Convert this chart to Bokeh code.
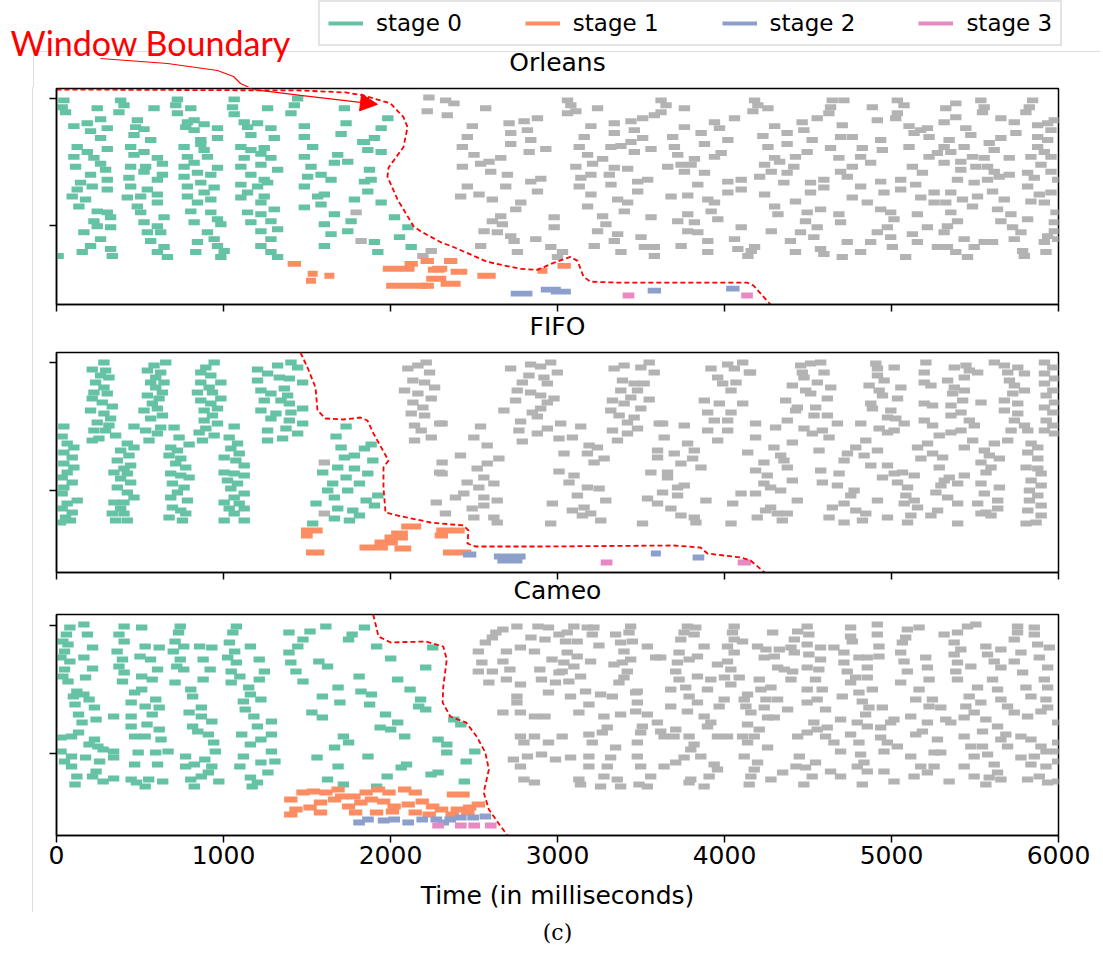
from bokeh.plotting import figure
from bokeh.models import (Range1d, FixedTicker, Title, Legend, LegendItem, Label,
                          Arrow, NormalHead, Spacer, Div)
from bokeh.layouts import column, row
from bokeh.embed import file_html
from bokeh.resources import INLINE

GREEN = "#66c2a5"; ORANGE = "#fc8d62"; BLUE = "#8da0cb"; PINK = "#e78ac3"
GRAY = "#b3b3b3"; RED = "#ff0000"; FRAME_GRAY = "#dcdcdc"

X_TICKS = [0, 1000, 2000, 3000, 4000, 5000, 6000]
STAGES = ["stage 0", "stage 1", "stage 2", "stage 3"]
PANELS = ["Orleans", "FIFO", "Cameo"]

# ---------------- Orleans ----------------
ORL_S0 = [(44,204),(34,197),(54,192),(244,196),(384,204),(404,199),(374,192),(584,196),(724,205),(714,199),(724,191),(804,196),(1064,205),(1054,197),(1064,190),(1264,196),(1444,206),(1424,199),(1404,191),(1724,196),(1984,186),
(104,178),(184,181),(264,185),(204,173),(304,176),(484,184),(474,177),(524,175),(464,169),(564,164),(784,182),(824,184),(774,177),(884,180),(964,176),(824,174),(1124,182),(1204,181),(1144,177),(1284,176),(1164,169),(1304,166),(1484,178),(1484,167),(1734,181),(1704,170),(1944,176),(1904,166),(1834,162),(964,166),(864,164),(264,166),
(124,157),(184,152),(304,155),(104,147),(224,146),(264,140),(294,134),(114,137),(444,157),(464,149),(524,152),(604,146),(444,137),(534,137),(634,140),(634,129),(764,157),(864,160),(884,154),(904,147),(784,147),(824,141),(764,137),(964,136),(1104,157),(1164,154),(1244,156),(1224,150),(1124,146),(1284,146),(1104,137),(1224,139),(1324,134),(1484,147),(1534,157),(1524,137),(1684,149),(1744,142),(1664,141),(1844,162),(1864,154),(1944,152),(1874,134),
(204,129),(304,124),(144,121),(214,117),(304,114),(124,114),(94,107),(174,104),(134,97),(434,126),(524,132),(604,124),(444,117),(544,114),(504,107),(604,109),(424,106),(604,101),(764,127),(844,131),(924,129),(784,117),(864,121),(944,116),(884,111),(924,104),(844,101),(784,107),(1164,129),(1244,124),(1104,119),(1204,117),(1264,121),(1144,111),(1244,107),(1224,101),(1104,106),(1504,127),(1584,129),(1484,117),(1644,124),(1564,107),(1604,109),(1484,96),(1584,99),(1844,122),(1884,124),(1864,112),(1784,104),(1944,101),
(244,92),(304,91),(224,82),(324,86),(164,71),(244,77),(324,76),(264,64),(204,57),(154,51),(324,54),(334,47),(484,97),(504,91),(644,86),(524,81),(604,77),(624,71),(544,71),(564,62),(644,56),(604,51),(664,46),(804,92),(924,91),(824,81),(964,84),(984,79),(904,71),(944,64),(844,61),(834,51),(964,57),(1004,52),(984,46),(1144,91),(1224,89),(1304,94),(1164,81),(1284,82),(1224,72),(1324,74),(1284,64),(1224,57),(1284,51),(1324,46),(1604,79),(1664,89),(1764,82),(1644,69),(1744,72),(1604,57),(1904,61),(1924,51),(2024,86),(2104,76),(2054,66),(2124,56),(10,47)]

ORL_GRAY = [(1794,91),(1824,62),(2194,47),(2244,52),
(2230,207),(2330,204),(2380,201),(2220,193),(2340,189),(2570,196),(2490,178),(2710,181),(2800,183),(2880,186),(2720,171),(2820,174),(2460,167),(2430,157),(2720,160),(2840,164),(2930,155),(2830,152),(2500,149),(2540,140),(2590,142),(2660,146),(2430,137),(2600,132),(2700,129),(2840,122),(2900,125),(2460,117),(2530,109),(2610,104),(2420,107),(2690,117),(2780,101),(2880,112),(2750,94),(2660,87),(2610,82),(2670,79),(2560,72),(2640,71),(2720,67),(2740,62),(2540,57),(2760,51),(2980,86),(2980,76),(2870,64),(2960,56),(3030,51),(3000,46),
(3060,204),(3080,199),(3060,191),(3110,193),(3240,196),(3200,178),(3340,181),(3440,183),(3510,186),(3340,171),(3460,174),(3160,167),(3510,166),(3440,162),(3130,157),(3320,157),(3380,158),(3460,152),(3560,155),(3180,149),(3270,145),(3210,140),(3110,137),(3340,136),(3420,135),(3200,129),(3310,129),(3140,126),(3480,122),(3540,124),(3320,119),(3130,117),(3200,109),(3360,104),(3420,101),(3480,112),(3180,97),(3400,92),(3270,87),(3290,79),(3240,72),(3360,69),(3340,62),(3220,57),(3380,51),(3500,66),(3560,86),(3580,56),(3520,56),(3580,47),
(3620,204),(3650,199),(3620,192),(3760,196),(3580,189),(3760,177),(3860,171),(3940,182),(3970,176),(4060,186),(4020,164),(3690,167),(3700,157),(3880,160),(3980,151),(3720,149),(3820,145),(3660,137),(3740,139),(3800,139),(3940,147),(3760,132),(3880,131),(3840,119),(4020,122),(4100,124),(4100,114),(4020,111),(3680,107),(3780,108),(3900,104),(3940,101),(3920,92),(3780,89),(3820,81),(3720,82),(3960,84),(4100,76),(3780,72),(3840,71),(3900,62),(3740,57),(3900,51),(4060,64),(4080,54),(4160,52),(4140,47),
(4180,204),(4200,199),(4170,193),(4260,196),(4300,178),(4230,168),(4260,157),(4300,146),(4240,139),(4330,142),(4210,127),(4280,132),(4240,109),(4300,97),(4320,89),(4280,72),(4180,56),
(4645,204),(4715,204),(4635,197),(4625,191),(4555,186),(4465,182),(4475,174),(4375,171),(4525,164),(4375,160),(4495,152),(4425,147),(4635,156),(4695,167),(4765,167),(4705,179),(4825,156),(4815,147),(4765,137),(4875,141),(4735,127),(4595,124),(4515,121),(4815,117),(4765,106),(4855,101),(4685,146),(4695,132),(4595,116),(4515,111),(4425,102),(4375,131),(4415,137),(4355,121),(4575,94),(4495,91),(4485,82),(4685,89),(4695,81),(4555,76),(4455,71),(4395,62),(4425,51),(4535,66),(4575,54),(4595,49),(4705,46),(4735,61),(4815,51),
(4885,197),(4915,184),(4935,164),(4945,154),(5035,204),(5075,199),(5035,191),(5025,186),(5105,178),(5175,174),(5215,176),(5135,171),(5225,167),(5105,157),(4935,122),(4955,111),(5055,124),(5055,114),(5145,119),(5125,137),(5185,131),(5225,147),(5275,151),(5255,111),(5175,106),(5255,101),(5325,101),(4935,94),(4995,91),(5015,84),(4975,76),(4915,71),(4875,61),(4995,66),(5005,56),(5085,46),(5155,89),(5215,76),(5125,69),(5155,61),
(5325,196),(5385,201),(5315,182),(5385,187),(5345,164),(5435,157),(5445,176),(5475,169),(5315,157),(5355,152),(5415,142),(5315,141),(5485,147),(5505,137),(5415,134),(5395,124),(5495,121),(5355,111),(5425,104),(5515,107),(5485,97),(5355,91),(5395,82),(5315,71),(5335,77),(5435,64),(5275,56),(5335,56),(5385,51),(5455,46),(5495,56),(5555,61),(5605,61),
(5535,204),(5555,197),(5545,192),(5655,186),(5735,182),(5745,171),(5655,166),(5585,161),(5615,154),(5555,146),(5575,137),(5615,132),(5705,146),(5705,129),(5645,127),(5575,124),(5605,112),(5675,104),(5635,94),(5715,89),(5655,82),(5725,76),(5775,71),(5815,84),(5735,64),(5785,52),(5795,47),(5925,51),(5915,61),
(5845,204),(5825,197),(5805,192),(5875,179),(5935,181),(5975,184),(5955,174),(5875,167),(5935,164),(5875,157),(5915,152),(5955,147),(5895,139),(5835,147),(5815,131),(5855,126),(5955,132),(5995,124),(5815,117),(5885,109),(5955,111),(5835,102),(5915,101),(5985,91),(5975,81),(5975,72),(5935,67),(5995,64)]

ORL_S1 = [(1384,1464,39),(1504,1564,29),(1494,1554,22),(1604,1664,27),(1954,2144,34),(1974,2224,17),(2084,2164,39),(2224,2324,33),(2214,2334,24),(2180,2260,42),(2250,2340,34),(2320,2400,42),(2360,2460,31),(2520,2630,27),(2300,2420,19),(2180,2260,17),(2880,2940,32),(3000,3080,37)]
ORL_S2 = [(2720,2850,9),(2900,3020,13),(2960,3080,11),(3540,3620,12),(4010,4090,14)]
ORL_S3 = [(3390,3460,7),(4100,4170,7)]
ORL_BOUND = [(0,215),(1461,214),(1731,212),(1838,209),(2000,201),(2078,187),(2102,177),(2078,157),(1988,136),(1982,127),(2042,104),(2138,77),(2180,72),(2299,61),(2377,56),(2581,41),(2778,34),(2880,33),(2976,40),(3078,46),(3120,42),(3156,26),(3198,21),(3377,20),(4138,20),(4174,17),(4275,-2)]

# ---------------- FIFO ----------------
FIFO_S0 = [(44,146),(34,136),(64,129),(104,125),(44,120),(94,115),(44,109),(104,105),(64,100),(34,95),(94,90),(44,85),(34,79),(124,72),(64,69),(34,64),(94,60),(54,55),(84,52),(24,50),
(284,210),(214,203),(294,202),(264,197),(314,195),(234,190),(284,185),(224,180),(304,179),(214,174),(274,170),(334,166),(204,162),(284,159),(324,154),(244,150),(314,147),(224,142),(294,142),(354,137),(214,132),(254,134),
(424,129),(464,125),(384,122),(434,117),(364,112),(444,107),(404,104),(344,100),(424,99),(384,94),(444,90),(364,85),(424,80),(464,75),(344,70),(404,70),(384,64),(334,59),(404,59),(354,52),(424,52),
(654,210),(584,207),(544,202),(624,200),(594,195),(564,190),(644,190),(594,185),(634,180),(544,177),(614,174),(574,169),(524,162),(604,164),(634,157),(564,154),(464,146),(624,145),(534,142),(604,139),(554,132),(704,145),(734,135),
(684,125),(724,122),(794,128),(674,117),(744,114),(714,109),(774,105),(684,99),(744,97),(794,95),(694,89),(764,85),(724,80),(684,75),(784,72),(694,65),(744,62),(774,59),(674,55),(754,52),
(944,210),(894,205),(864,200),(924,197),(984,190),(864,190),(914,185),(844,180),(934,180),(984,174),(864,172),(924,169),(884,162),(964,164),(934,157),(884,152),(964,149),(894,144),(854,140),(944,137),(874,132),(1064,146),(1034,135),
(1084,129),(1044,124),(1094,119),(1004,115),(1074,112),(1124,107),(1004,100),(1064,99),(1124,97),(1024,92),(1084,89),(1044,84),(1124,79),(1064,75),(1004,70),(1094,69),(1034,64),(1124,64),(1064,59),(1004,52),(1124,52),
(1204,203),(1264,199),(1324,207),(1404,210),(1444,205),(1334,195),(1394,194),(1474,190),(1204,192),(1224,182),(1284,179),(1364,184),(1384,177),(1244,172),(1344,172),(1394,169),(1224,162),(1314,159),(1404,160),(1474,164),(1284,154),(1394,152),(1474,149),(1264,142),(1374,144),(1444,139),(1264,132),(1354,134),
(1734,146),(1674,136),(1704,125),(1844,124),(1884,128),(1784,117),(1724,115),(1894,112),(1684,105),(1594,100),(1784,104),(1864,99),(1734,95),(1814,89),(1654,89),(1624,82),(1744,82),(1924,77),(1554,69),(1664,75),(1854,72),(1904,67),(1684,64),(1774,62),(1814,57),(1664,54),(1754,52),(1534,49)]

FIFO_GRAY = [(1604,110),(1604,59),(2214,210),(2164,207),(2104,204),(2234,200),(2134,192),(2204,190),(2264,185),(2084,182),(2164,179),(2244,174),(2134,170),(2194,165),(2124,159),(2204,157),(2294,149),(2144,147),(2184,142),(2244,135),(2144,132),(2274,70),(2294,100),
(2719,204),(2839,208),(2959,210),(2899,206),(2999,200),(2829,197),(2919,195),(2789,190),(2939,189),(2759,182),(2839,180),(2899,177),(2979,174),(2749,172),(2939,170),(2679,162),(2849,160),(2899,164),(2879,156),(2779,151),(2939,144),(2879,139),(2769,142),(2789,131),(3019,149),(3139,146),(3009,134),(3089,135),(3039,119),(3189,127),(3239,125),(3179,119),(3279,114),(3219,110),(3009,101),(3099,97),(3069,90),(3179,85),(3249,84),(3119,77),(3289,72),(2969,69),(3159,65),(3089,62),(3199,59),(3259,52),(2959,49),(3149,57),
(2539,146),(2499,135),(2579,127),(2419,117),(2519,104),(2579,109),(2649,114),(2459,90),(2559,95),(2619,89),(2529,85),(2389,75),(2439,79),(2559,75),(2639,72),(2489,64),(2559,67),(2619,55),(2499,55),(2329,59),(2639,50),(2309,110),(2309,99),(2309,149),
(3339,204),(3399,207),(3499,205),(3549,210),(3579,200),(3389,192),(3459,189),(3519,189),(3379,182),(3479,182),(3439,175),(3549,173),(3329,172),(3399,169),(3499,164),(3319,162),(3369,157),(3459,155),(3419,150),(3329,142),(3479,144),(3419,139),(3359,132),(3629,149),(3759,147),(3639,135),(3599,122),(3599,115),(3779,129),(3819,122),(3699,119),(3809,114),(3739,109),(3859,105),(3559,100),(3659,100),(3659,95),(3759,87),(3719,85),(3629,80),(3719,77),(3539,74),(3889,72),(3599,69),(3679,64),(3739,57),(3819,55),(3509,49),(3829,50),
(3919,204),(4019,208),(4109,210),(4059,204),(4149,200),(3959,195),(3989,189),(4069,190),(4039,182),(3879,172),(3969,169),(4109,169),(4039,160),(3899,160),(3939,152),(4019,152),(4019,142),(3899,142),(3959,132),(3609,149),(4139,120),(4099,79),(4049,69),(4039,49),
(4156,200),(4456,207),(4516,209),(4576,210),(4466,200),(4476,195),(4596,200),(4556,190),(4406,187),(4486,182),(4516,179),(4636,185),(4366,172),(4436,165),(4426,162),(4546,165),(4616,174),(4536,157),(4616,157),(4676,149),(4306,145),(4376,152),(4186,149),(4476,144),(4526,139),(4586,142),(4626,135),(4186,135),(4296,125),(4406,130),(4566,122),(4336,117),(4356,112),(4236,110),(4376,105),(4186,102),(4256,97),(4406,92),(4236,89),(4276,85),(4336,82),(4186,79),(4436,72),(4276,65),(4246,62),(4316,59),(4376,59),(4196,55),(4346,52),
(4576,102),(4586,90),(4686,99),(4676,87),(4776,82),(4756,77),(4646,65),(4716,69),(4786,62),(4846,59),(4716,50),(4826,52),(4626,55),
(4906,209),(4916,204),(5016,205),(4916,197),(4956,192),(4866,187),(5056,185),(4926,182),(4946,177),(5036,174),(4876,169),(4886,164),(4996,162),(4976,155),(5026,154),(5076,149),(4816,149),(4926,144),(4976,140),(5016,142),(4846,132),(4786,125),(4916,122),(4736,119),(4836,117),(4716,112),(4876,107),(4976,107),(4946,95),(5016,99),(5036,90),(5136,97),(5066,100),(5096,85),(5086,77),(5136,72),(4916,72),(5076,69),(5156,65),(5116,57),(5096,50),(4976,55),
(5206,210),(5196,200),(5196,190),(5236,187),(5196,169),(5246,167),(5196,152),(5246,147),(5286,137),(5216,129),(5156,125),(5176,114),(5246,119),(5306,115),(5286,105),(5346,95),(5316,92),(5266,80),(5336,75),(5296,87),(5396,69),(5276,62),(5236,57),(5396,49),(5356,140),
(5376,205),(5446,207),(5466,202),(5516,200),(5436,195),(5336,192),(5376,185),(5436,182),(5366,179),(5426,172),(5536,170),(5356,167),(5416,160),(5356,157),(5466,152),(5496,147),(5416,142),(5486,132),(5436,125),(5556,122),(5536,110),(5586,117),(5596,105),(5646,114),(5566,100),(5436,97),(5396,89),(5536,89),(5646,85),(5556,79),(5636,72),(5516,69),(5566,60),(5596,57),(5636,64),(5536,59),
(5616,210),(5676,207),(5756,205),(5696,200),(5796,199),(5706,192),(5736,187),(5796,182),(5726,179),(5676,172),(5756,169),(5676,162),(5756,159),(5736,152),(5796,147),(5716,142),(5816,142),(5696,132),(5616,129),
(5916,210),(5966,205),(5916,199),(5976,194),(5916,189),(5966,182),(5926,177),(5976,170),(5916,165),(5966,160),(5926,152),(5966,147),(5916,142),(5976,139),(5836,129),(5876,125),(5816,120),(5876,114),(5806,105),(5876,104),(5896,99),(5836,92),(5896,87),(5826,82),(5876,77),(5826,72),(5896,67),(5816,62),(5896,57),(5806,49),(5866,50)]

FIFO_S1 = [(1464,1594,42),(1464,1534,37),(1494,1604,20),(1814,1984,25),(1904,2044,30),(1964,2104,35),(2004,2104,39),(2024,2124,24),(2064,2184,46),(2274,2444,42),(2264,2344,37),(2314,2484,20)]
FIFO_S2 = [(2434,2514,18),(2619,2809,16),(2640,2790,12),(3559,3619,19),(3809,3879,15)]
FIFO_S3 = [(3259,3329,10),(4079,4159,10)]
FIFO_BOUND = [(1461,220),(1503,205),(1551,185),(1563,162),(1611,154),(1719,153),(1820,155),(1862,152),(1898,139),(1988,112),(1958,105),(1958,85),(1970,60),(2042,57),(2240,50),(2437,47),(2467,42),(2461,29),(2509,26),(2898,26),(3695,27),(3856,25),(3898,19),(4096,15),(4156,12),(4275,-5)]

# ---------------- Cameo ----------------
CAM_S0 = [(80,208),(59,201),(38,194),(69,191),(48,184),(27,178),(80,174),(48,166),(38,159),(69,154),(164,211),(185,201),(216,188),(164,178),(216,167),(174,158),(122,144),(164,141),(101,139),(111,131),(195,136),(227,128),(132,121),(237,116),(153,113),(90,99),(132,103),(27,98),(227,96),(195,91),(248,89),(27,84),(279,86),(174,78),(258,74),(90,79),(342,84),(48,74),(90,69),(237,64),(216,59),(279,54),(342,57),(122,59),(111,51),
(405,209),(374,201),(405,194),(363,184),(395,176),(374,169),(405,163),(395,154),(510,208),(531,189),(500,179),(563,176),(615,188),(510,159),(573,156),(605,166),(468,143),(510,146),(447,133),(594,136),(531,129),(615,128),(342,119),(447,119),(447,109),(542,111),(573,121),(615,106),(468,99),(531,99),(626,96),(668,84),(489,83),(468,71),(594,83),(605,71),(342,78),(447,56),(552,56),(636,54),(479,53),(531,49),
(741,209),(731,203),(710,194),(762,189),(699,184),(741,176),(720,169),(762,166),(710,153),(857,189),(930,188),(878,176),(920,166),(878,156),(804,146),(815,139),(867,128),(794,123),(867,119),(815,109),(930,114),(846,104),(909,101),(941,93),(951,84),(888,76),(773,79),(825,71),(930,69),(909,63),(867,59),(804,56),(972,54),(825,49),(773,69),
(1077,209),(1056,203),(1035,193),(1067,184),(1025,178),(1077,173),(1046,164),(1098,159),(1046,153),(1161,189),(1214,176),(1245,164),(1214,156),(1151,148),(1161,141),(1119,134),(1224,136),(1130,126),(1182,119),(1287,114),(1203,109),(1109,101),(1287,101),(1224,96),(1161,91),(1287,84),(1119,79),(1224,73),(1308,74),(1098,69),(1266,63),(1161,58),(1203,53),(1172,49),
(1392,203),(1518,204),(1613,209),(1476,196),(1445,189),(1392,183),(1403,173),(1434,164),(1476,154),(1571,174),(1623,169),(1686,148),(1592,139),(1697,133),(1529,123),(1592,118),(1718,99),(1749,93),(1665,88),(1560,78),(1686,69),(1623,56),(1718,51),
(1770,201),(1749,196),(1844,208),(1917,189),(1812,159),(1823,144),(1886,141),(1875,131),(2001,177),(2043,156),(1970,121),(1938,108),(2001,106),(2043,113),(2085,99),(1865,79),(2096,71),(2064,68),(1980,59),(1917,49),
(2253,188),(2211,168),(2117,146),(2180,136),(2169,129),(2211,126),(2379,116),(2421,111),(2285,96),(2337,91),(2337,83),(2505,84),(2453,74),(2285,63),(2243,61),(2442,54)]

CAM_GRAY = [(2631,203),(2673,206),(2757,209),(2568,193),(2610,198),(2526,184),(2694,184),(2778,188),(2547,173),(2673,174),(2526,164),(2610,164),(2715,166),(2589,153),(2694,156),(2778,151),(2757,139),(2673,123),(2778,123),(2757,133),(2778,99),(2862,99),(2799,93),(2946,93),(2736,76),(2820,79),(2904,81),(2778,69),(2988,76),(2799,56),(2862,53),(2883,209),(2946,208),(2841,198),(2925,196),(3009,201),(2862,184),(2967,176),(2894,166),(3009,163),(2904,156),(2988,153),(2946,143),(2862,119),(2925,119),
(3098,209),(3058,203),(3178,208),(3218,208),(3048,194),(3208,201),(3118,194),(3248,190),(3058,183),(3118,179),(3038,173),(3198,174),(3098,169),(3028,164),(3138,159),(3068,154),(3338,171),(3348,201),(3438,209),(3428,203),(3448,194),(3378,193),(3398,184),(3438,176),(3388,173),(3418,164),(3398,158),(3368,153),(3538,189),(3478,144),(3078,139),(3168,144),(3258,141),(3328,139),(3188,131),(3128,123),(3278,119),(3378,121),(3298,108),(3268,103),(3188,101),(3028,99),(3208,93),(3348,88),(3188,79),(3078,78),(3318,78),(3188,69),(3298,69),(3128,56),(3278,59),(3358,56),(3138,51),(3258,49),(3378,49),
(3468,143),(3478,133),(3468,124),(3538,121),(3508,109),(3498,103),(3478,93),(3478,79),(3498,69),(3488,51),(3558,59),(3538,49),(3588,178),(3618,178),(3598,113),(3618,104),(3638,99),(3678,129),(3708,106),(3698,99),(3788,99),(3638,69),(3708,73),(3758,78),(3798,56),
(3778,209),(3758,203),(3738,196),(3828,208),(3818,201),(3878,189),(3728,183),(3788,176),(3838,179),(3718,173),(3708,164),(3728,156),(3678,146),(3768,148),(3838,159),(3788,139),(3838,133),(3778,124),(3878,119),(3918,113),(3898,109),(3958,99),(4018,99),(3818,91),(3798,86),(3858,79),(3938,71),(3958,66),(3908,59),(3878,49),(3788,53),(3898,146),(3998,136),(3968,129),(4038,151),(3918,156),(3958,171),(4038,166),(4018,174),
(4058,209),(4048,203),(4058,196),(4108,194),(4018,189),(4058,183),(4000,158),(4088,158),(4118,136),(4138,141),(4128,129),(4158,123),(4138,111),(4208,106),(4178,99),(4108,99),(4138,93),(4118,79),(4198,73),(4178,66),(4158,59),(4148,51),(4258,88),(4278,56),(4348,63),
(4198,189),(4248,186),(4238,178),(4298,179),(4288,203),(4208,156),(4218,146),(4278,148),(4318,136),(4248,136),(4238,128),(4298,118),(4258,118),(4378,126),(4358,166),(4318,168),(4328,186),(4398,188),(4418,196),(4438,204),(4418,183),(4408,164),(4398,156),(4438,99),(4448,79),(4428,69),
(4495,209),(4505,201),(4495,191),(4575,188),(4655,188),(4505,181),(4575,176),(4565,166),(4495,168),(4545,156),(4495,146),(4585,146),(4555,136),(4605,126),(4495,133),(4535,113),(4495,103),(4555,106),(4615,108),(4655,93),(4695,84),(4605,99),(4545,73),(4485,68),(4525,59),(4635,64),(4695,59),(4475,51),
(4755,208),(4755,199),(4765,194),(4715,183),(4805,178),(4715,173),(4735,164),(4785,158),(4855,158),(4755,153),(4805,143),(4705,139),(4825,134),(4865,128),(4845,121),(4695,116),(4795,113),(4855,109),(4755,101),(4805,93),(4935,98),(4975,93),(4815,81),(4835,73),(4795,69),(4855,64),(4955,64),(5015,54),(4825,51),
(4915,211),(4915,201),(4925,189),(4855,178),(4925,179),(4855,168),(4885,146),(4945,128),(4935,108),(4955,84),(4995,113),(5015,116),(5035,89),
(5095,206),(5085,198),(5065,193),(5055,183),(5075,174),(5095,164),(5055,153),(5165,208),(5205,178),(5215,168),(5225,156),(5165,146),(5145,136),(5245,136),(5225,129),(5295,128),(5115,119),(5215,113),(5145,101),(5185,104),(5275,96),(5295,83),(5255,83),(5115,79),(5175,69),(5215,63),(5135,59),(5255,69),(5345,54),
(5315,201),(5395,203),(5455,209),(5505,211),(5375,193),(5415,186),(5375,181),(5395,173),(5475,169),(5385,164),(5395,156),(5325,116),(5355,113),(5435,118),(5465,139),(5445,129),(5515,148),(5535,133),(5495,123),(5565,116),(5545,104),(5435,99),(5475,89),(5495,79),(5545,89),(5575,81),(5435,69),(5615,71),(5495,59),(5565,51),(5585,58),(5635,63),(5655,56),
(5565,189),(5575,181),(5655,186),(5615,174),(5655,168),(5735,174),(5755,209),(5755,203),(5735,196),(5855,208),(5855,201),(5875,191),(5945,188),(5775,183),(5885,178),(5935,168),(5785,163),(5605,156),(5635,146),(5655,136),(5695,129),(5735,123),(5635,109),(5685,101),(5655,96),(5695,89),(5775,99),(5835,96),(5895,89),(5775,78),(5855,79),(5925,84),(5995,93),(5985,84),(5835,71),(5925,69),(5995,74),(5815,56),(5885,59),(5935,53),(5995,54),(5805,148),(5835,139),(5925,136),(5895,124),(5935,128),(5815,119),(5995,113),(5935,148),(5915,156)]

CAM_S1 = [(1363,1443,36),(1436,1516,43),(1499,1579,44),(1573,1653,43),(1646,1726,46),(1667,1747,39),(1741,1821,39),(1814,1894,43),(1888,1968,46),(1951,2031,43),(2045,2125,46),(2108,2188,43),(2337,2474,41),
(1394,1474,26),(1478,1558,28),(1541,1621,33),(1625,1705,36),(1709,1789,29),(1783,1863,33),(1846,1926,36),(1919,1999,34),(1982,2062,29),(2066,2146,31),(2150,2230,34),(2213,2293,29),(2266,2346,26),(2360,2440,26),(2434,2514,28),(2486,2566,31),
(1363,1443,21),(1541,1621,23),(1751,1831,23),(1877,1957,23),(1972,2052,24),(2108,2188,23),(2192,2272,21),(2329,2409,21),(2423,2503,23)]
CAM_S2 = [(1777,1847,13),(1830,1900,16),(1924,1994,15),(1987,2057,16),(2071,2141,13),(2155,2225,16),(2239,2309,16),(2281,2351,13),(2323,2393,16),(2386,2456,18),(2460,2530,18),(2533,2603,19)]
CAM_S3 = [(2250,2320,10),(2386,2456,10),(2466,2536,10),(2565,2635,10)]
CAM_BOUND = [(1896,221),(1907,214),(1928,199),(2001,193),(2211,194),(2316,189),(2337,176),(2316,149),(2312,133),(2358,119),(2453,113),(2516,99),(2568,83),(2589,66),(2558,43),(2589,26),(2652,11),(2705,-1)]

# pointer from the "Window Boundary" text (Orleans data space, continues above its frame)
ARROW_PATH = [(263,246),(665,241),(964,234),(1060,228),(1102,221),(1180,215),(1461,209),(1820,202)]
ARROW_TIP = (1922, 200)

MS_PER_PX = 6000 / 1002


def panel(height, top, bottom, yr, yticks):
    p = figure(width=1067, height=height, x_range=Range1d(0, 6000), y_range=Range1d(yr[0], yr[1]),
               output_backend="svg", toolbar_location=None, title_location=None,
               min_border_left=23, min_border_right=42,
               min_border_top=top, min_border_bottom=bottom)
    p.grid.visible = False
    p.outline_line_color = "black"
    p.outline_line_width = 1.5
    p.outline_line_alpha = 1
    for ax in (p.xaxis[0], p.yaxis[0]):
        ax.axis_line_width = 1.5
        ax.axis_line_color = "black"
        ax.major_tick_line_width = 1.5
        ax.major_tick_line_color = "black"
        ax.major_tick_out = 7
        ax.major_tick_in = 0
        ax.minor_tick_line_color = None
        ax.major_label_text_font_size = "0px"
        ax.major_label_text_color = None
        ax.major_label_standoff = 0
    p.xaxis.ticker = FixedTicker(ticks=X_TICKS)
    p.yaxis.ticker = FixedTicker(ticks=yticks)
    return p


def caption_below(p, text, standoff):
    """Name of the following panel, set centred just under this panel's tick marks."""
    ax = p.xaxis[0]
    ax.axis_label = text
    ax.axis_label_text_font = "DejaVu Sans"
    ax.axis_label_text_font_size = "25px"
    ax.axis_label_text_font_style = "normal"
    ax.axis_label_text_color = "black"
    ax.axis_label_standoff = standoff


def draw(p, s0, gray, s1, s2, s3, bnd):
    p.rect(x=[d[0] for d in gray], y=[d[1] for d in gray], width=68, height=6,
           fill_color=GRAY, line_color=None)
    p.rect(x=[d[0] for d in s0], y=[d[1] for d in s0], width=68, height=6,
           fill_color=GREEN, line_color=None)
    for bars, col in ((s1, ORANGE), (s2, BLUE), (s3, PINK)):
        p.hbar(y=[b[2] for b in bars], left=[b[0] for b in bars],
               right=[b[1] for b in bars], height=6, fill_color=col, line_color=None)
    p.line(x=[b[0] for b in bnd], y=[b[1] for b in bnd], line_color=RED,
           line_width=1.8, line_dash="5 3")


# ---------------- header (legend, pointer text, Orleans title) ----------------
hdr = figure(width=1100, height=87, x_range=Range1d(-56 * MS_PER_PX, 1044 * MS_PER_PX),
             y_range=Range1d(217, 304), output_backend="svg", toolbar_location=None,
             x_axis_type=None, y_axis_type=None, title_location=None,
             min_border_left=0, min_border_right=0, min_border_top=0, min_border_bottom=0)
hdr.outline_line_color = None
hdr.grid.visible = False

# legend swatch renderers: two points each, far outside the visible header range
dummies = [hdr.line(x=[-9000, -8000], y=[0, 0], line_color=c, line_width=4)
           for c in (GREEN, ORANGE, BLUE, PINK)]
legend = Legend(items=[LegendItem(label=s, renderers=[r]) for s, r in zip(STAGES, dummies)],
                orientation="horizontal", location=(318, 41),
                label_text_font="DejaVu Sans", label_text_font_size="23px", label_text_color="black",
                glyph_width=35, glyph_height=20, label_standoff=13, spacing=63,
                padding=8, margin=0, border_line_color="#c8c8c8", border_line_width=2,
                background_fill_color="white", background_fill_alpha=1)
hdr.add_layout(legend)

hdr.add_layout(Label(x=-275, y=262, text="Window Boundary", text_color=RED,
                     text_font="Lato", text_font_size="34px", text_baseline="alphabetic"))
hdr.add_layout(Label(x=3000, y=242, text=PANELS[0], text_color="black", text_align="center",
                     text_baseline="middle", text_font="DejaVu Sans", text_font_size="25px"))
hdr.line(x=[a for a, b in ARROW_PATH], y=[b for a, b in ARROW_PATH], line_color=RED, line_width=1.2)
hdr.line(x=[6400, -23 * MS_PER_PX, -23 * MS_PER_PX], y=[253, 253, 200], line_color=FRAME_GRAY, line_width=1)

# ---------------- panels ----------------
p1 = panel(256, 1, 37, (-2, 216), [78, 206])
p2 = panel(269, 9, 40, (0, 220), [82, 210])
p3 = panel(342, 2, 119, (0, 221), [82, 210])
caption_below(p1, PANELS[1], 0)
caption_below(p2, PANELS[2], -4)

draw(p1, ORL_S0, ORL_GRAY, ORL_S1, ORL_S2, ORL_S3, ORL_BOUND)
draw(p2, FIFO_S0, FIFO_GRAY, FIFO_S1, FIFO_S2, FIFO_S3, FIFO_BOUND)
draw(p3, CAM_S0, CAM_GRAY, CAM_S1, CAM_S2, CAM_S3, CAM_BOUND)

p1.line(x=[a for a, b in ARROW_PATH], y=[b for a, b in ARROW_PATH], line_color=RED, line_width=1.2)
p1.add_layout(Arrow(end=NormalHead(size=17, fill_color=RED, line_color=RED),
                    x_start=ARROW_PATH[-1][0], y_start=ARROW_PATH[-1][1],
                    x_end=ARROW_TIP[0], y_end=ARROW_TIP[1], line_color=RED, line_width=1.2))

ax = p3.xaxis[0]
ax.major_label_text_font_size = "25px"
ax.major_label_text_font = "DejaVu Sans"
ax.major_label_text_color = "black"
ax.major_label_standoff = 3
ax.axis_label = "Time (in milliseconds)"
ax.axis_label_text_font = "DejaVu Sans"
ax.axis_label_text_font_size = "25px"
ax.axis_label_text_font_style = "normal"
ax.axis_label_text_color = "black"
ax.axis_label_standoff = 14
p3.add_layout(Title(text="(c)", align="center", text_font="DejaVu Serif", text_color="black",
                    text_font_size="22px", text_font_style="normal", standoff=10), "below")

vline = Div(text="", width=1, height=825, margin=0, styles={"background-color": FRAME_GRAY})
layout = column(hdr,
                row(Spacer(width=32, height=10, margin=0), vline, column(p1, p2, p3, spacing=0), spacing=0),
                spacing=0)
open("out.html", "w").write(file_html(layout, INLINE))
